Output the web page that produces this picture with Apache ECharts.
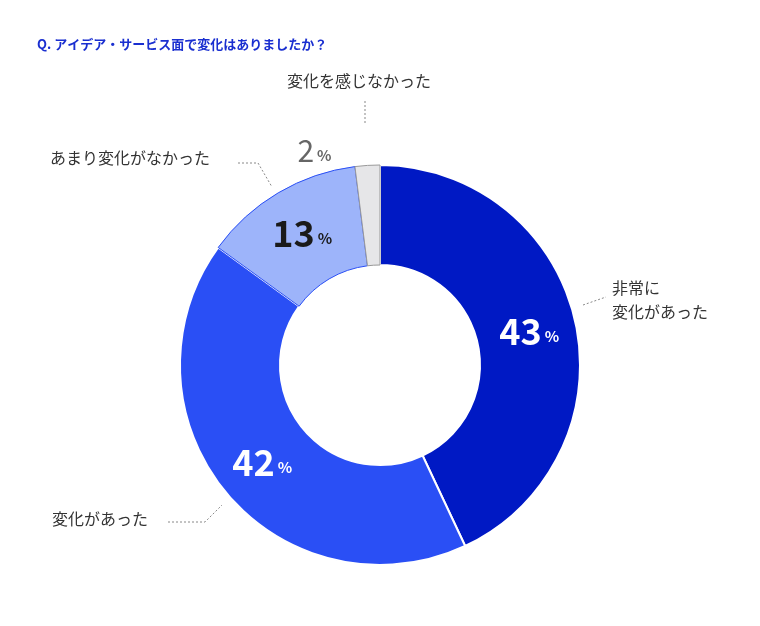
<!DOCTYPE html><html><head><meta charset="utf-8"><script src="https://cdn.jsdelivr.net/npm/echarts@6/dist/echarts.min.js"></script>
<style>body{margin:0}#c{width:760px;height:626px}</style></head><body><div id="c"></div><script>
const names=['非常に\n変化があった','変化があった','あまり変化がなかった','変化を感じなかった'];
const values=[43,42,13,2];
const colors=['#0019C4','#2A4FF5','#9DB4FA','#E6E6E8'];
const borders=['#ffffff','#ffffff','#2A4FF5','#999999'];
const labelColors=['#fff','#fff','#1a1a1a','#666'];
const F='"Noto Sans CJK JP","Noto Sans",sans-serif';
const chart=echarts.init(document.getElementById('c'));
const data=values.map((v,i)=>({value:v,name:names[i],
 itemStyle:{color:colors[i],borderColor:borders[i],borderWidth:i<2?2:1},
 label:{position:i===3?'outside':'inside',distance:8,
  formatter:'{n|{c}}{p|%}',
  rich:{n:{fontSize:i===3?30:36,fontWeight:i===3?'normal':'bold',color:labelColors[i],fontFamily:F},
        p:{fontSize:15,fontWeight:'bold',color:labelColors[i],fontFamily:F,padding:[10,0,0,3]}}},
 labelLine:{show:false}}));
const dot={stroke:'#888',lineWidth:1,lineDash:[2,2]};
chart.setOption({
 animation:false,
 title:{text:'Q. アイデア・サービス面で変化はありましたか？',left:32,top:33,textStyle:{fontSize:13,fontWeight:'bold',color:'#1a2fd0',fontFamily:F}},
 series:[{type:'pie',center:[380,365],radius:[100,200],startAngle:90,clockwise:true,data:data,avoidLabelOverlap:false}],
 graphic:[
  {type:'text',left:612,top:276,style:{text:'非常に\n変化があった',font:'16px '+F,fill:'#333',lineHeight:24}},
  {type:'polyline',shape:{points:[[583,305],[606,297]]},style:dot},
  {type:'text',left:52,top:511,style:{text:'変化があった',font:'16px '+F,fill:'#333'}},
  {type:'polyline',shape:{points:[[168,522],[205,522],[222,505]]},style:dot},
  {type:'text',left:50,top:150,style:{text:'あまり変化がなかった',font:'16px '+F,fill:'#333'}},
  {type:'polyline',shape:{points:[[238,163],[258,163],[272,187]]},style:dot},
  {type:'text',left:287,top:73,style:{text:'変化を感じなかった',font:'16px '+F,fill:'#333'}},
  {type:'polyline',shape:{points:[[365,101],[365,125]]},style:dot}
 ]});
</script></body></html>
